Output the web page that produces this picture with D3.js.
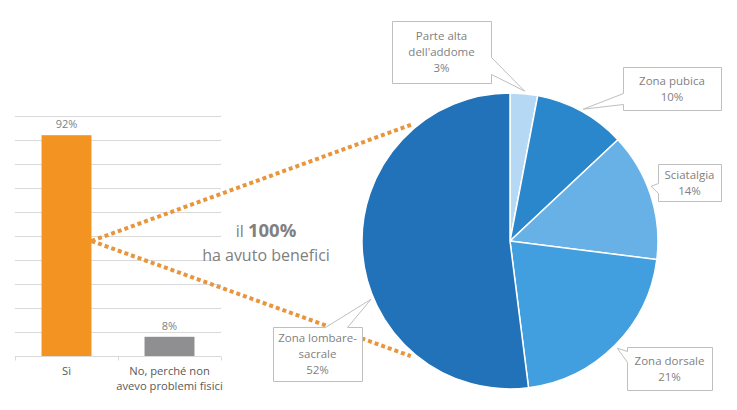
<!DOCTYPE html>
<html>
<head>
<meta charset="utf-8">
<script src="https://cdn.jsdelivr.net/npm/d3@7"></script>
<style>
  body { margin: 0; background: #fff; }
  text { font-family: "Open Sans", sans-serif; }
</style>
</head>
<body>
<svg id="chart" width="737" height="410"></svg>
<script>
// bar chart data
var barCategories = ["Sì", "No, perché non\navevo problemi fisici"]
var barValues = [92, 8]
var barColors = ["#F39322", "#8F8F91"]
var yTicks = d3.range(0, 101, 10)

// pie data
var pieLabels = ["Parte alta\ndell'addome", "Zona pubica", "Sciatalgia", "Zona dorsale", "Zona lombare-\nsacrale"]
var pieValues = [3, 10, 14, 21, 52]
var pieColors = ["#B5D8F5", "#2B87CB", "#67B1E7", "#419EDF", "#2272B9"]

var headline = ["il ", "100%", "ha avuto benefici"]

var svg = d3.select("#chart")

// ---- bar chart ----
var bar = {left: 15, right: 221, top: 116, bottom: 356}

var x = d3.scaleBand()
    .domain(barCategories)
    .range([bar.left, bar.right])
    .paddingInner(0.515)
    .paddingOuter(0.2575)
var y = d3.scaleLinear().domain([0, 100]).range([bar.bottom, bar.top])

var gb = svg.append("g")

gb.selectAll(".grid").data(yTicks.slice(1))
  .enter().append("line")
    .attr("class", "grid")
    .attr("x1", bar.left).attr("x2", bar.right)
    .attr("y1", d => y(d) + 0.5).attr("y2", d => y(d) + 0.5)
    .attr("stroke", "#D9D9D9")

var ax = gb.append("g")
    .attr("transform", `translate(0,${bar.bottom + 0.5})`)
ax.append("line").attr("x1", bar.left).attr("x2", bar.right).attr("stroke", "#D9D9D9")
// tick marks sit between the categories
ax.selectAll(".sep").data(d3.range(barCategories.length + 1))
  .enter().append("line")
    .attr("x1", i => bar.left + 0.5 + i * (bar.right - bar.left) / barCategories.length)
    .attr("x2", i => bar.left + 0.5 + i * (bar.right - bar.left) / barCategories.length)
    .attr("y1", 0).attr("y2", 4)
    .attr("stroke", "#D9D9D9")

gb.selectAll(".bar").data(barValues)
  .enter().append("rect")
    .attr("class", "bar")
    .attr("x", (d, i) => x(barCategories[i]))
    .attr("y", d => y(d))
    .attr("width", x.bandwidth())
    .attr("height", d => y(0) - y(d))
    .attr("fill", (d, i) => barColors[i])

gb.selectAll(".val").data(barValues)
  .enter().append("text")
    .attr("x", (d, i) => x(barCategories[i]) + x.bandwidth() / 2)
    .attr("y", d => y(d) - 7)
    .attr("text-anchor", "middle")
    .attr("font-size", 11)
    .attr("fill", "#7F7F7F")
    .text(d => d + "%")

gb.selectAll(".cat").data(barCategories)
  .enter().append("text")
    .attr("x", d => x(d) + x.bandwidth() / 2)
    .attr("y", bar.bottom + 19)
    .attr("text-anchor", "middle")
    .attr("font-size", 11.2)
    .attr("fill", "#595959")
  .selectAll("tspan").data(d => d.split("\n"))
  .enter().append("tspan")
    .attr("x", function() { return this.parentNode.getAttribute("x") })
    .attr("dy", (d, i) => i ? 15 : 0)
    .text(d => d)

// ---- pie ----
var cx = 510, cy = 241, r = 148
var pie = d3.pie().sort(null).value(d => d)
var arcs = pie(pieValues)
var arc = d3.arc().innerRadius(0).outerRadius(r)

var gp = svg.append("g").attr("transform", `translate(${cx},${cy})`)

// dotted connectors from the "Sì" bar to the pie
var dotAngles = [-0.693, -2.43]
var startX = x(barCategories[0]) + x.bandwidth()
svg.append("g").selectAll("line").data(dotAngles)
  .enter().append("line")
    .attr("x1", startX).attr("y1", cy)
    .attr("x2", a => cx + (r + 4) * Math.sin(a))
    .attr("y2", a => cy - (r + 4) * Math.cos(a))
    .attr("stroke", "#E8963E")
    .attr("stroke-width", 4)
    .attr("stroke-dasharray", "4 3")

gp.selectAll("path").data(arcs)
  .enter().append("path")
    .attr("d", arc)
    .attr("fill", (d, i) => pieColors[i])
    .attr("stroke", "#fff")
    .attr("stroke-width", 1.5)

// callout boxes
var callouts = [
  {x: 392, y: 21, w: 99, h: 62, side: "right", base: [57, 74], off: 0},
  {x: 623, y: 67, w: 98, h: 43, side: "left", base: [93, 104], off: 0},
  {x: 658, y: 164, w: 63, h: 37, side: "left", base: [183, 193], off: -0.06},
  {x: 627, y: 347, w: 85, h: 43, side: "left", base: [351, 362], off: 0},
  {x: 273, y: 327, w: 89, h: 54, side: "top", base: [325, 347], off: -0.33}
]

function calloutPath(c, tip) {
  var tl = [c.x, c.y], tr = [c.x + c.w, c.y], br = [c.x + c.w, c.y + c.h], bl = [c.x, c.y + c.h]
  var pts = [tl]
  var b = c.base
  if (c.side == "top") pts.push([b[0], c.y], tip, [b[1], c.y])
  pts.push(tr)
  if (c.side == "right") pts.push([tr[0], b[0]], tip, [tr[0], b[1]])
  pts.push(br)
  pts.push(bl)
  if (c.side == "left") pts.push([c.x, b[1]], tip, [c.x, b[0]])
  return "M" + pts.map(p => p.map(v => v + 0.5).join(",")).join("L") + "Z"
}

var gc = svg.append("g")
arcs.forEach(function(a, i) {
  var c = callouts[i]
  var ang = (a.startAngle + a.endAngle) / 2 + c.off
  var tip = [cx + (r + 3) * Math.sin(ang), cy - (r + 3) * Math.cos(ang)]
  gc.append("path")
    .attr("d", calloutPath(c, tip))
    .attr("fill", "#fff")
    .attr("stroke", "#BFBFBF")
  var lines = pieLabels[i].split("\n").concat([pieValues[i] + "%"])
  var t = gc.append("text")
    .attr("text-anchor", "middle")
    .attr("font-size", 11.5)
    .attr("fill", "#7F7F7F")
  var y0 = c.y + c.h / 2 - (lines.length - 1) * 8 + 4
  t.selectAll("tspan").data(lines)
    .enter().append("tspan")
      .attr("x", c.x + c.w / 2)
      .attr("y", (d, j) => y0 + j * 16)
      .text(d => d)
})

// headline text
var ht = svg.append("text")
    .attr("x", 266).attr("y", 237)
    .attr("text-anchor", "middle")
    .attr("fill", "#808080")
ht.append("tspan").attr("font-size", 16).text(headline[0])
ht.append("tspan").attr("font-size", 18.5).attr("font-weight", "bold").text(headline[1])
svg.append("text")
    .attr("x", 266).attr("y", 261)
    .attr("text-anchor", "middle")
    .attr("font-size", 16)
    .attr("fill", "#808080")
    .text(headline[2])
</script>
</body>
</html>
